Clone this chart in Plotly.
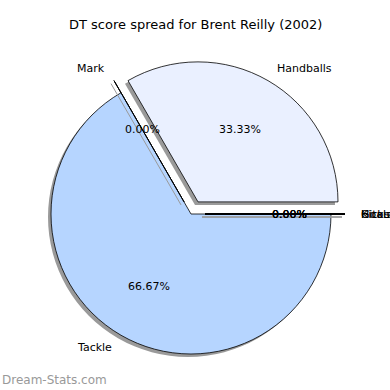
import math
import plotly.graph_objects as go

title = "DT score spread for Brent Reilly (2002)"
labels = ["Kicks", "Handballs", "Mark", "Tackle", "Goals", "Hitout"]
values = [0, 1, 0, 2, 0, 0]
explode = [0.1, 0.1, 0.1, 0, 0.1, 0.1]
colors = ["#d6e4ff", "#eaf0ff", "#c8dcff", "#b6d5ff", "#dde8ff", "#e4ecff"]

W = H = 390
CX, CY, R = 191.0, 214.0, 140.0
SH = 3.0  # shadow offset in px

maxpull = max(explode)
side = 2 * R * (1 + maxpull)
def dom(cx, cy):
    x0 = (cx - side / 2) / W
    x1 = (cx + side / 2) / W
    y0 = (H - (cy + side / 2)) / H
    y1 = (H - (cy - side / 2)) / H
    return dict(x=[x0, x1], y=[y0, y1])

fig = go.Figure()
# shadow
fig.add_trace(go.Pie(
    values=values, labels=labels, sort=False, direction="counterclockwise",
    rotation=90, pull=explode, textinfo="none", hoverinfo="skip",
    marker=dict(colors=["#9a9a9a"] * len(values), line=dict(width=0)),
    domain=dom(CX - SH, CY + SH), showlegend=False,
))
# main
fig.add_trace(go.Pie(
    values=values, labels=labels, sort=False, direction="counterclockwise",
    rotation=90, pull=explode, textinfo="none",
    marker=dict(colors=colors, line=dict(color="black", width=0.8)),
    domain=dom(CX, CY), showlegend=False,
))

total = sum(values)
annotations = []
shapes = []
start = 0.0
font = dict(family="DejaVu Sans", size=11, color="black")
def px(x, y):
    return x / W, 1 - y / H
for lab, v, e in zip(labels, values, explode):
    span = 360.0 * v / total
    mid = math.radians(start + span / 2)
    ox = CX + e * R * math.cos(mid)
    oy = CY - e * R * math.sin(mid)
    lx = ox + 1.1 * R * math.cos(mid)
    ly = oy - 1.1 * R * math.sin(mid)
    xa = "left" if math.cos(mid) > 1e-9 else ("right" if math.cos(mid) < -1e-9 else "center")
    X, Y = px(lx, ly)
    annotations.append(dict(x=X, y=Y, xref="paper", yref="paper", text=lab,
                            showarrow=False, xanchor=xa, yanchor="middle", font=font))
    tx = ox + 0.6 * R * math.cos(mid)
    ty = oy - 0.6 * R * math.sin(mid)
    X, Y = px(tx, ty)
    annotations.append(dict(x=X, y=Y, xref="paper", yref="paper",
                            text="%.2f%%" % (100.0 * v / total),
                            showarrow=False, xanchor="center", yanchor="middle", font=font))
    if v == 0:
        ex = ox + R * math.cos(mid)
        ey = oy - R * math.sin(mid)
        for dx, dy, col in [(-SH, SH, "#9a9a9a"), (0, 0, "black")]:
            x0, y0 = px(ox + dx, oy + dy)
            x1, y1 = px(ex + dx, ey + dy)
            shapes.append(dict(type="line", xref="paper", yref="paper",
                               x0=x0, y0=y0, x1=x1, y1=y1,
                               line=dict(color=col, width=1)))
    start += span

annotations.append(dict(x=0.5, y=1 - 25 / H, xref="paper", yref="paper", text=title,
                        showarrow=False, xanchor="center", yanchor="middle",
                        font=dict(family="DejaVu Sans", size=13, color="black")))
annotations.append(dict(x=0, y=1 - 380 / H, xref="paper", yref="paper", text="Dream-Stats.com",
                        showarrow=False, xanchor="left", yanchor="middle",
                        font=dict(family="DejaVu Sans", size=12, color="#999999")))

fig.update_layout(width=W, height=H, margin=dict(l=0, r=0, t=0, b=0),
                  paper_bgcolor="white", plot_bgcolor="white",
                  annotations=annotations, shapes=shapes)
fig.write_html("out.html", config={"displayModeBar": False},
               post_script="document.body.style.margin='0';")
